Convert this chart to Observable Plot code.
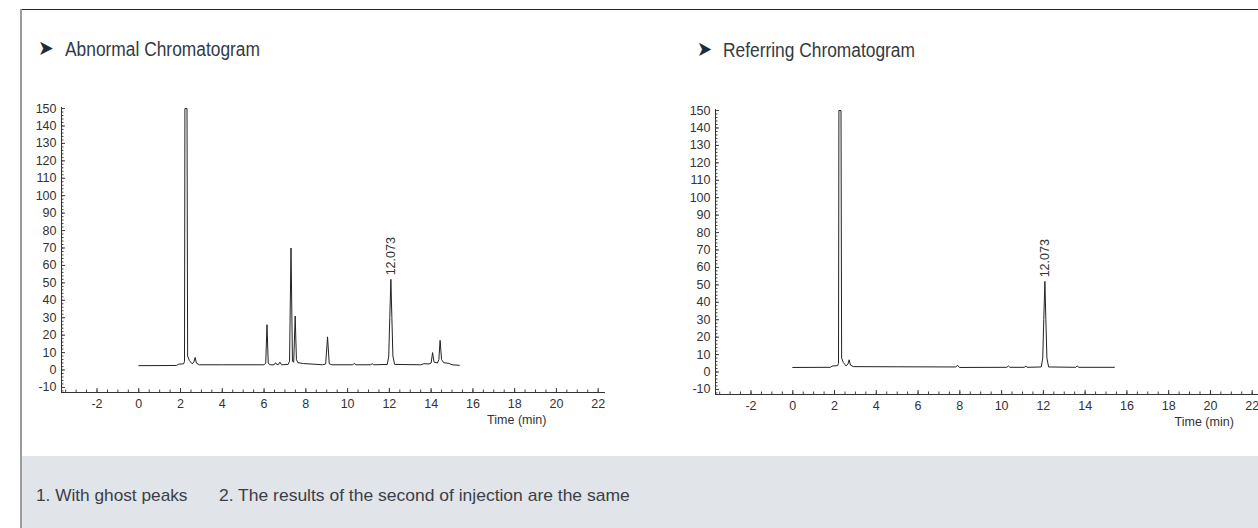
<!DOCTYPE html>
<html><head><meta charset="utf-8">
<script src="https://cdn.jsdelivr.net/npm/d3@7"></script>
<script src="https://cdn.jsdelivr.net/npm/@observablehq/plot@0.6"></script>
<style>
html,body{margin:0;padding:0;background:#fff;}
body{width:1258px;height:528px;overflow:hidden;position:relative;font-family:"Liberation Sans",Arial,sans-serif;}
#frameTop{position:absolute;left:20px;top:9px;right:0;height:1px;background:#222;z-index:5;}
#frameLeft{position:absolute;left:20px;top:9px;width:1.5px;bottom:0;background:#9a9a9a;z-index:5;}
#footer{position:absolute;left:21px;top:456px;right:0;bottom:0;background:#e1e4e9;}
.fit{position:absolute;white-space:nowrap;transform-origin:0 50%;line-height:1;}
.arrow{font-family:"DejaVu Sans",sans-serif;color:#1e2b3c;}
.title{color:#343a42;}
.foot{color:#3a3f47;}
.chart{position:absolute;width:630px;height:350px;}
.chart svg{max-width:none !important;width:630px;height:350px;}
</style>
</head>
<body>
<div id="frameTop"></div>
<div id="frameLeft"></div>
<div id="footer"></div>
<div id="c1" class="chart" style="left:0px;top:90px"></div>
<div id="c2" class="chart" style="left:654px;top:92px"></div>
<script>
// ---------- data ----------
const abnormalTitle = "Abnormal Chromatogram";
const referTitle = "Referring Chromatogram";
const footNotes = ["1. With ghost peaks", "2. The results of the second of injection are the same"];
const xLabel = "Time (min)";

const xTicks = [-2, 0, 2, 4, 6, 8, 10, 12, 14, 16, 18, 20, 22];
const yTicks = [-10, 0, 10, 20, 30, 40, 50, 60, 70, 80, 90, 100, 110, 120, 130, 140, 150];

const abnormalTime = [0.00, 1.80, 1.90, 2.15, 2.19, 2.21, 2.31, 2.34, 2.42, 2.55, 2.64, 2.70, 2.76, 2.90,
  4.00, 6.00, 6.08, 6.14, 6.20, 6.28, 6.48, 6.55, 6.62, 6.70, 6.76, 6.84,
  7.15, 7.22, 7.29, 7.36, 7.42, 7.49, 7.55, 7.62, 7.90, 8.30, 8.80,
  8.95, 9.04, 9.12, 9.25, 10.25, 10.32, 10.40, 11.10, 11.18, 11.25,
  11.90, 11.97, 12.02, 12.073, 12.12, 12.17, 12.25, 13.50, 13.65, 13.90,
  14.00, 14.07, 14.14, 14.30, 14.37, 14.43, 14.50, 14.60, 14.85, 15.00, 15.35];
const abnormalSignal = [2.5, 2.6, 3.3, 3.6, 5, 150, 150, 8, 5.5, 3.6, 4.5, 7.2, 4, 3.0,
  3.0, 3.0, 4, 26, 4, 3.0, 3.0, 4.2, 3.0, 3.3, 4.5, 3.0,
  3.2, 5, 70, 5, 4.5, 31, 6, 4.2, 3.7, 3.4, 3.0,
  3.5, 19, 3.6, 3.0, 3.0, 3.8, 3.0, 3.0, 3.6, 3.0,
  3.2, 8, 30, 52, 30, 8, 3.2, 3.0, 3.6, 3.5,
  4, 10, 4.5, 4, 6, 17, 6, 4.2, 3.8, 3.0, 2.7];

const referTime = [0.00, 1.80, 1.88, 2.15, 2.19, 2.21, 2.31, 2.34, 2.42, 2.55, 2.64, 2.70, 2.76, 2.90,
  5.00, 7.80, 7.90, 7.98, 10.25, 10.33, 10.40, 11.10, 11.16, 11.22,
  11.90, 11.97, 12.02, 12.073, 12.12, 12.17, 12.25, 13.55, 13.62, 13.70, 15.40];
const referSignal = [2.6, 2.7, 3.4, 3.7, 5, 150, 150, 8, 5.5, 3.5, 4.5, 7, 4, 3.1,
  3.0, 2.9, 3.8, 2.6, 2.7, 3.5, 2.7, 2.7, 3.5, 2.7,
  2.9, 8, 30, 52, 30, 8, 2.9, 2.7, 3.5, 2.7, 2.7];

const peakTime = [12.073];
const peakSignal = [52];
const peakLabels = ["12.073"];

// ---------- chart ----------
const xDomain = [-3.7, 22.35];
const yDomain = [-12.9, 150.6];
const xMinor = d3.range(-3.5, 22.01, 0.5);
const yMinor = d3.range(-12, 150.1, 2);

function chart(time, signal, labelX) {
  const trace = time.map((t, i) => ({t, v: signal[i]}));
  const peaks = peakTime.map((t, i) => ({t, v: peakSignal[i], label: peakLabels[i]}));
  return Plot.plot({
    width: 630, height: 350,
    marginLeft: 61, marginRight: 25, marginTop: 17, marginBottom: 48,
    x: {domain: xDomain},
    y: {domain: yDomain},
    style: {fontFamily: "'Liberation Sans', Arial, sans-serif", fontSize: "12.5px", color: "#333", background: "transparent", overflow: "visible"},
    marks: [
      Plot.axisX(xTicks, {tickSize: 0, tickPadding: 7, tickFormat: d => String(d), label: null, fill: "#333"}),
      Plot.axisX(xMinor, {tickSize: -2.5, text: null, label: null, stroke: "#444"}),
      Plot.axisX(xTicks, {tickSize: -4, text: null, label: null, stroke: "#444"}),
      Plot.axisY(yTicks, {tickSize: 0, tickPadding: 5, tickFormat: d => String(d), label: null, fill: "#333"}),
      Plot.axisY(yMinor, {tickSize: -2.5, text: null, label: null, stroke: "#444"}),
      Plot.axisY(yTicks, {tickSize: -4, text: null, label: null, stroke: "#444"}),
      Plot.ruleX([xDomain[0]], {stroke: "#333"}),
      Plot.ruleY([yDomain[0]], {stroke: "#333"}),
      Plot.line(trace, {x: "t", y: "v", stroke: "#222", strokeWidth: 1, clip: true}),
      Plot.text(peaks, {x: "t", y: "v", text: "label", rotate: -90, textAnchor: "start", dy: -4, fontSize: 12.5, fill: "#333"}),
      Plot.text([xLabel], {x: labelX, frameAnchor: "bottom", dy: 31, fontSize: 12.5, fill: "#333"})
    ]
  });
}

document.getElementById("c1").append(chart(abnormalTime, abnormalSignal, 18.1));
document.getElementById("c2").append(chart(referTime, referSignal, 19.7));

// ---------- text blocks ----------
function addText(txt, cls, fs, left, cy, w) {
  const el = document.createElement("div");
  el.className = "fit " + cls;
  el.textContent = txt;
  el.style.fontSize = fs + "px";
  el.style.left = left + "px";
  el.style.top = (cy - 0.49 * fs) + "px";
  document.body.append(el);
  const nat = el.getBoundingClientRect().width;
  if (w && nat > 0) el.style.transform = `scaleX(${w / nat})`;
  return el;
}
addText("➤", "arrow", 21, 37.7, 48.5, 15.6);
addText(abnormalTitle, "title", 20, 65, 49, 195);
addText("➤", "arrow", 21, 696.7, 49, 15);
addText(referTitle, "title", 20, 722.7, 49.5, 192);
addText(footNotes[0], "foot", 17, 36, 495, 151.5);
addText(footNotes[1], "foot", 17, 219, 495, 410.7);
</script>
</body></html>
